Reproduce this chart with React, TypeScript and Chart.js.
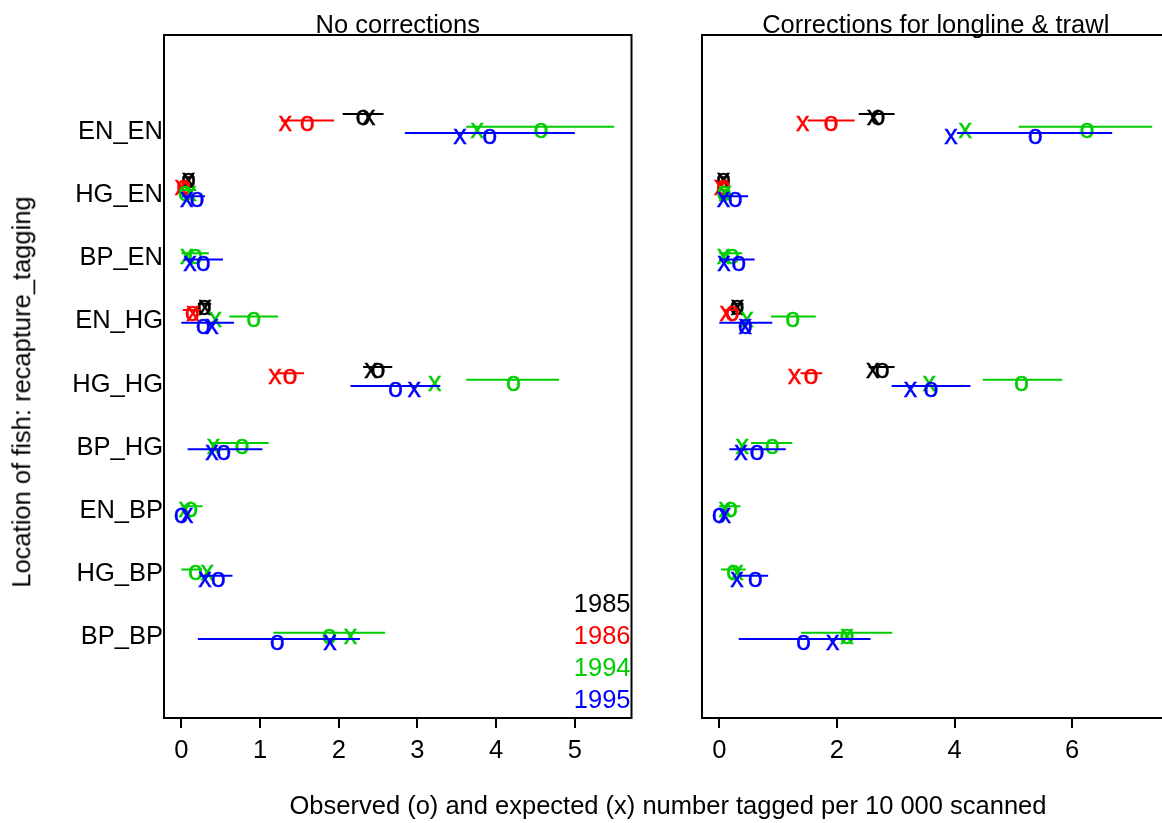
import React, { useEffect, useRef } from "react";
import { Chart, registerables } from "chart.js";

Chart.register(...registerables);

// Recapture locations (rows, top to bottom)
const categories = ["EN_EN", "HG_EN", "BP_EN", "EN_HG", "HG_HG", "BP_HG", "EN_BP", "HG_BP", "BP_BP"];
const years = ["1985", "1986", "1994", "1995"];
const yearColors = ["#000000", "#ff0000", "#00cd00", "#0000ff"];
// vertical offset of each year inside a row (row units)
const yearOffsets = [-0.15, -0.05, 0.05, 0.15];

const xTicksRaw = [0, 1, 2, 3, 4, 5];
const xTicksCor = [0, 2, 4, 6];

// ---- No corrections: observed (o), expected (x), interval low/high ----
const rawObs1985 = [2.31, 0.09, null, 0.29, 2.5, null, null, null, null];
const rawExp1985 = [2.38, 0.09, null, 0.3, 2.41, null, null, null, null];
const rawLo1985 = [2.05, 0.02, null, 0.21, 2.31, null, null, null, null];
const rawHi1985 = [2.57, 0.16, null, 0.38, 2.68, null, null, null, null];

const rawObs1986 = [1.6, 0.03, null, 0.14, 1.38, null, null, null, null];
const rawExp1986 = [1.32, 0.0, null, 0.15, 1.19, null, null, null, null];
const rawLo1986 = [1.27, 0.0, null, 0.02, 1.2, null, null, null, null];
const rawHi1986 = [1.94, 0.1, null, 0.24, 1.56, null, null, null, null];

const rawObs1994 = [4.57, 0.05, 0.18, 0.92, 4.22, 0.77, 0.12, 0.18, 1.88];
const rawExp1994 = [3.76, 0.11, 0.07, 0.43, 3.22, 0.41, 0.05, 0.33, 2.15];
const rawLo1994 = [3.62, 0.02, 0.0, 0.61, 3.62, 0.37, 0.01, 0.0, 1.17];
const rawHi1994 = [5.5, 0.19, 0.35, 1.23, 4.8, 1.11, 0.27, 0.26, 2.59];

const rawObs1995 = [3.92, 0.2, 0.28, 0.28, 2.72, 0.54, 0.0, 0.47, 1.22];
const rawExp1995 = [3.54, 0.07, 0.11, 0.39, 2.96, 0.39, 0.07, 0.3, 1.89];
const rawLo1995 = [2.84, 0.01, 0.03, 0.0, 2.15, 0.08, 0.0, 0.24, 0.21];
const rawHi1995 = [5.0, 0.3, 0.53, 0.67, 3.29, 1.03, 0.0, 0.65, 2.27];

// ---- Corrections for longline & trawl ----
const corObs1985 = [2.7, 0.07, null, 0.3, 2.77, null, null, null, null];
const corExp1985 = [2.62, 0.07, null, 0.31, 2.61, null, null, null, null];
const corLo1985 = [2.37, 0.03, null, 0.22, 2.54, null, null, null, null];
const corHi1985 = [2.98, 0.12, null, 0.41, 2.98, null, null, null, null];

const corObs1986 = [1.9, 0.07, null, 0.22, 1.56, null, null, null, null];
const corExp1986 = [1.42, 0.02, null, 0.12, 1.28, null, null, null, null];
const corLo1986 = [1.5, 0.0, null, 0.1, 1.38, null, null, null, null];
const corHi1986 = [2.3, 0.12, null, 0.3, 1.75, null, null, null, null];

const corObs1994 = [6.25, 0.08, 0.22, 1.25, 5.14, 0.9, 0.19, 0.24, 2.17];
const corExp1994 = [4.18, 0.1, 0.07, 0.47, 3.57, 0.39, 0.1, 0.3, 2.17];
const corLo1994 = [5.09, 0.02, 0.0, 0.88, 4.48, 0.54, 0.0, 0.03, 1.39];
const corHi1994 = [7.36, 0.15, 0.39, 1.64, 5.83, 1.24, 0.36, 0.45, 2.94];

const corObs1995 = [5.37, 0.27, 0.33, 0.44, 3.6, 0.64, 0.0, 0.61, 1.43];
const corExp1995 = [3.94, 0.07, 0.08, 0.44, 3.25, 0.37, 0.09, 0.3, 1.93];
const corLo1995 = [4.04, 0.02, 0.0, 0.0, 2.93, 0.17, 0.0, 0.33, 0.33];
const corHi1995 = [6.68, 0.49, 0.6, 0.9, 4.27, 1.13, 0.0, 0.83, 2.57];

type Vals = (number | null)[];
type YearSeries = { obs: Vals; exp: Vals; lo: Vals; hi: Vals };

const rawSeries: YearSeries[] = [
  { obs: rawObs1985, exp: rawExp1985, lo: rawLo1985, hi: rawHi1985 },
  { obs: rawObs1986, exp: rawExp1986, lo: rawLo1986, hi: rawHi1986 },
  { obs: rawObs1994, exp: rawExp1994, lo: rawLo1994, hi: rawHi1994 },
  { obs: rawObs1995, exp: rawExp1995, lo: rawLo1995, hi: rawHi1995 },
];
const corSeries: YearSeries[] = [
  { obs: corObs1985, exp: corExp1985, lo: corLo1985, hi: corHi1985 },
  { obs: corObs1986, exp: corExp1986, lo: corLo1986, hi: corHi1986 },
  { obs: corObs1994, exp: corExp1994, lo: corLo1994, hi: corHi1994 },
  { obs: corObs1995, exp: corExp1995, lo: corLo1995, hi: corHi1995 },
];

const FAMILY = '"Liberation Sans", Arial, Helvetica, sans-serif';
const FS = 25.5;
const FONT = `${FS}px ${FAMILY}`;
const GLYPH_FONT = `27px ${FAMILY}`;

const PAGE_H = 823;
const PLOT_TOP = 35;
const PLOT_BOTTOM = 718;
const PLOT_W = 467.5;
const X_AXIS_H = 60;

function buildDatasets(series: YearSeries[]) {
  const out: any[] = [];
  let drawIdx = 0;
  series.forEach((s, k) => {
    const color = yearColors[k];
    const off = yearOffsets[k];
    const seg: any[] = [];
    categories.forEach((_, i) => {
      const lo = s.lo[i];
      const hi = s.hi[i];
      if (lo == null || hi == null) return;
      const y = i + 1 + off;
      seg.push({ x: lo, y }, { x: hi, y }, { x: hi, y: null });
    });
    out.push({
      label: years[k] + " interval",
      data: seg,
      showLine: true,
      spanGaps: false,
      borderColor: color,
      borderWidth: 2,
      pointRadius: 0,
      pointHoverRadius: 0,
      order: 1000 - drawIdx++,
    });
    const glyphSet = (vals: Vals, glyph: string, name: string) => ({
      label: years[k] + " " + name,
      data: categories.map((_, i) =>
        vals[i] == null ? { x: null, y: null } : { x: vals[i], y: i + 1 + off }
      ),
      glyph,
      glyphColor: color,
      showLine: false,
      pointRadius: 0,
      pointHoverRadius: 0,
      order: 1000 - drawIdx++,
    });
    out.push(glyphSet(s.obs, "o", "observed"));
    out.push(glyphSet(s.exp, "x", "expected"));
  });
  return out;
}

// R-style axis range: data span extended by 4% on each side
function axisRange(series: YearSeries[]) {
  let lo = Infinity;
  let hi = -Infinity;
  series.forEach((s) =>
    [s.obs, s.exp, s.lo, s.hi].forEach((arr) =>
      arr.forEach((v) => {
        if (v == null) return;
        lo = Math.min(lo, v);
        hi = Math.max(hi, v);
      })
    )
  );
  const pad = (hi - lo) * 0.04;
  return { min: lo - pad, max: hi + pad };
}

function panelPlugin(title: string, showLegend: boolean) {
  return {
    id: "panelDecor",
    beforeDatasetsDraw(chart: any) {
      const { ctx, chartArea: a } = chart;
      ctx.save();
      ctx.strokeStyle = "#000";
      ctx.lineWidth = 2;
      ctx.strokeRect(a.left, a.top, a.right - a.left, a.bottom - a.top);
      ctx.restore();
    },
    afterDatasetDraw(chart: any, args: any) {
      const ds = chart.data.datasets[args.index];
      if (!ds.glyph) return;
      const ctx = chart.ctx;
      ctx.save();
      ctx.font = GLYPH_FONT;
      ctx.fillStyle = ds.glyphColor;
      ctx.strokeStyle = ds.glyphColor;
      ctx.lineWidth = 0.4;
      ctx.textAlign = "center";
      ctx.textBaseline = "alphabetic";
      args.meta.data.forEach((el: any) => {
        if (el.skip || isNaN(el.x) || isNaN(el.y)) return;
        ctx.fillText(ds.glyph, el.x, el.y + 11);
        ctx.strokeText(ds.glyph, el.x, el.y + 11);
      });
      ctx.restore();
    },
    afterDraw(chart: any) {
      const { ctx, chartArea: a } = chart;
      ctx.save();
      ctx.font = FONT;
      ctx.fillStyle = "#000";
      ctx.textAlign = "center";
      ctx.textBaseline = "alphabetic";
      ctx.fillText(title, (a.left + a.right) / 2, a.top - 2);
      if (showLegend) {
        ctx.textAlign = "right";
        const baselines = [106, 74, 42, 10];
        years.forEach((yr, k) => {
          ctx.fillStyle = yearColors[k];
          ctx.fillText(yr, a.right - 1, a.bottom - baselines[k]);
        });
      }
      ctx.restore();
    },
  };
}

function makeConfig(
  series: YearSeries[],
  xTicks: number[],
  title: string,
  canvasW: number,
  plotLeft: number,
  showY: boolean,
  showLegend: boolean
): any {
  const { min, max } = axisRange(series);
  const font = { family: FAMILY, size: FS };
  return {
    type: "scatter",
    data: { datasets: buildDatasets(series) },
    options: {
      animation: false,
      responsive: false,
      devicePixelRatio: 1,
      events: [],
      layout: {
        padding: {
          left: 0,
          top: PLOT_TOP,
          right: canvasW - (plotLeft + PLOT_W),
          bottom: PAGE_H - PLOT_BOTTOM - X_AXIS_H,
        },
      },
      plugins: {
        legend: { display: false },
        tooltip: { enabled: false },
        title: { display: false },
      },
      scales: {
        x: {
          type: "linear",
          position: "bottom",
          min,
          max,
          afterBuildTicks: (s: any) => {
            s.ticks = xTicks.map((v) => ({ value: v }));
          },
          afterFit: (s: any) => {
            s.height = X_AXIS_H;
          },
          grid: {
            drawOnChartArea: false,
            drawTicks: true,
            tickLength: 10,
            color: "#000",
            lineWidth: 2,
          },
          border: { display: false },
          ticks: {
            color: "#000",
            font,
            padding: 8,
            maxRotation: 0,
            autoSkip: false,
            callback: (v: any) => String(v),
          },
        },
        y: {
          type: "linear",
          reverse: true,
          min: -0.4,
          max: 10.4,
          afterBuildTicks: (s: any) => {
            s.ticks = categories.map((_, i) => ({ value: i + 1 }));
          },
          afterFit: (s: any) => {
            s.width = plotLeft;
          },
          grid: { display: false, drawTicks: false },
          border: { display: false },
          ticks: {
            display: showY,
            color: "#000",
            font,
            padding: 1,
            labelOffset: 8,
            autoSkip: false,
            callback: (v: any) => categories[Math.round(v) - 1],
          },
        },
      },
    },
    plugins: [panelPlugin(title, showLegend)],
  };
}

const LEFT_W = 680;
const RIGHT_W = 500;

export default function App() {
  const leftRef = useRef<HTMLCanvasElement>(null);
  const rightRef = useRef<HTMLCanvasElement>(null);

  useEffect(() => {
    const c1 = new Chart(
      leftRef.current!,
      makeConfig(rawSeries, xTicksRaw, "No corrections", LEFT_W, 164, true, true)
    );
    const c2 = new Chart(
      rightRef.current!,
      makeConfig(corSeries, xTicksCor, "Corrections for longline & trawl", RIGHT_W, 702 - LEFT_W, false, false)
    );
    return () => {
      c1.destroy();
      c2.destroy();
    };
  }, []);

  return (
    <div
      style={{
        position: "fixed",
        left: 0,
        top: 0,
        width: 1162,
        height: PAGE_H,
        overflow: "hidden",
        background: "#fff",
        fontFamily: FAMILY,
      }}
    >
      <canvas
        ref={leftRef}
        width={LEFT_W}
        height={PAGE_H}
        style={{ position: "absolute", left: 0, top: 0, width: LEFT_W, height: PAGE_H }}
      />
      <canvas
        ref={rightRef}
        width={RIGHT_W}
        height={PAGE_H}
        style={{ position: "absolute", left: LEFT_W, top: 0, width: RIGHT_W, height: PAGE_H }}
      />
      <div
        style={{
          position: "absolute",
          left: 22,
          top: 392,
          transform: "translate(-50%, -50%) rotate(-90deg)",
          whiteSpace: "nowrap",
          fontSize: FS,
          lineHeight: `${FS}px`,
          color: "#000",
        }}
      >
        Location of fish: recapture_tagging
      </div>
      <div
        style={{
          position: "absolute",
          left: 668,
          top: 793,
          transform: "translateX(-50%)",
          whiteSpace: "nowrap",
          fontSize: FS,
          lineHeight: `${FS}px`,
          color: "#000",
        }}
      >
        Observed (o) and expected (x) number tagged per 10 000 scanned
      </div>
    </div>
  );
}
